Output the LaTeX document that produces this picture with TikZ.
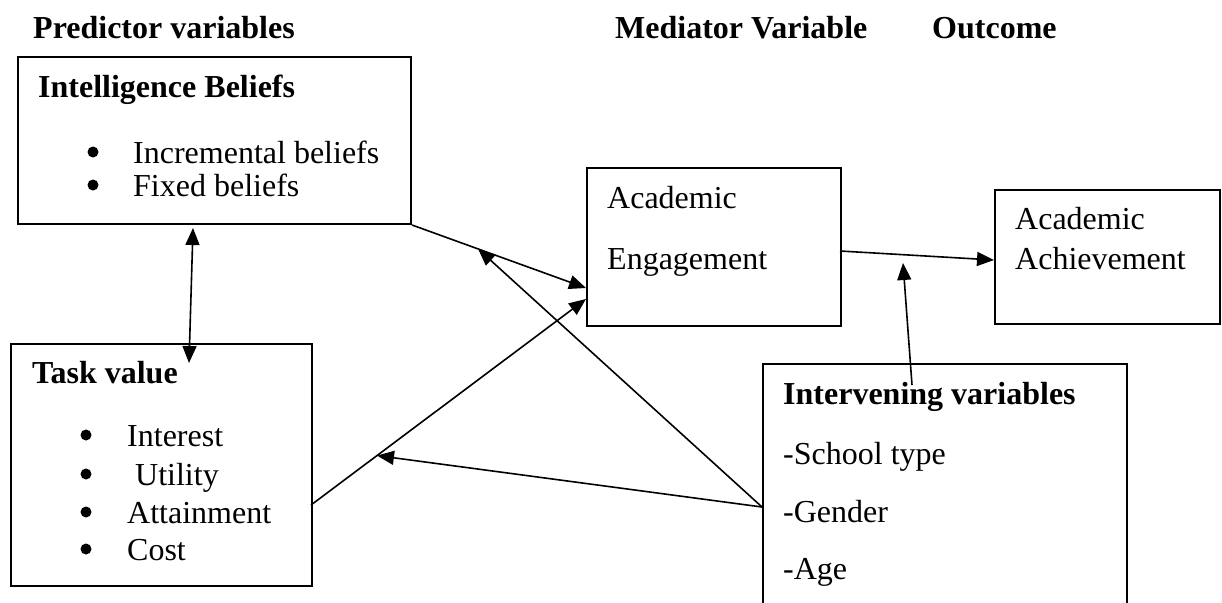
\documentclass[tikz,border=0pt]{standalone}
\usepackage{fontspec}
\setmainfont{Liberation Serif}
\usetikzlibrary{arrows.meta,calc}
\begin{document}
\begin{tikzpicture}[x=1pt, y=-1pt, >={Triangle[length=17pt,width=14pt]},
    box/.style={draw, line width=2pt, anchor=north west, inner sep=0pt},
    txt/.style={anchor=base west, inner sep=0pt, font=\fontsize{32}{38}\selectfont},
    hd/.style={anchor=base west, inner sep=0pt, font=\fontsize{32}{38}\selectfont\bfseries},
    bul/.style={circle, fill, inner sep=0pt, minimum size=11pt},
    link/.style={line width=1.6pt}]
\clip (0,0) rectangle (1222,602);

\node[hd] (hpred) at (33,38) {Predictor variables};
\node[hd] (hmed) at (615,38) {Mediator Variable};
\node[hd] (hout) at (932,38) {Outcome};

\node[box, minimum width=393, minimum height=167] (ib) at (17,56) {};
\node[hd] (ibt) at (38,97) {Intelligence Beliefs};
\node[txt] (ib1) at (133,163) {Incremental beliefs};
\node[txt] (ib2) at (133,196) {Fixed beliefs};
\foreach \y in {163,196} \node[bul] at (93,\y-11) {};

\node[box, minimum width=301, minimum height=242] (tv) at (10,343) {};
\node[hd] (tvt) at (32,383) {Task value};
\node[txt] (tv1) at (127,446) {Interest};
\node[txt] (tv2) at (127,485) {\ Utility};
\node[txt] (tv3) at (127,523) {Attainment};
\node[txt] (tv4) at (127,560) {Cost};
\foreach \y in {446,485,523,560} \node[bul] at (86,\y-11) {};

\node[box, minimum width=254, minimum height=158] (ae) at (586,167) {};
\node[txt] (ae1) at (607,208) {Academic};
\node[txt] (ae2) at (607,269) {Engagement};

\node[box, minimum width=225, minimum height=134] (aa) at (994,189) {};
\node[txt] (aa1) at (1015,229) {Academic};
\node[txt] (aa2) at (1015,269) {Achievement};

\node[box, minimum width=364, minimum height=300] (iv) at (762,363) {};
\node[hd] (ivt) at (783,404) {Intervening variables};
\node[txt] (iv1) at (783,464) {-School type};
\node[txt] (iv2) at (783,522) {-Gender};
\node[txt] (iv3) at (783,579) {-Age};

\coordinate (ibdn) at (193,228);
\coordinate (tvup) at (189,363);
\coordinate (aein) at (586,288);
\coordinate (aein2) at (586,299);
\coordinate (tvout) at (311,505);
\coordinate (ivout) at (762,507);
\coordinate (ivup) at (912,385);
\coordinate (aeout) at (840,251);
\coordinate (aain) at (994,260);
\coordinate (mod) at (903,263);

\draw[link,<->] (ibdn)--(tvup);
\draw[link,->] (ib.south east)--(aein);
\draw[link,->] (tvout)--(aein2);
\draw[link,->] (ivout)--($(ib.south east)!0.38!(aein)$);
\draw[link,->] (ivout)--($(tvout)!0.24!(aein2)$);
\draw[link,->] (aeout)--(aain);
\draw[link,->] (ivup)--(mod);

\end{tikzpicture}
\end{document}
